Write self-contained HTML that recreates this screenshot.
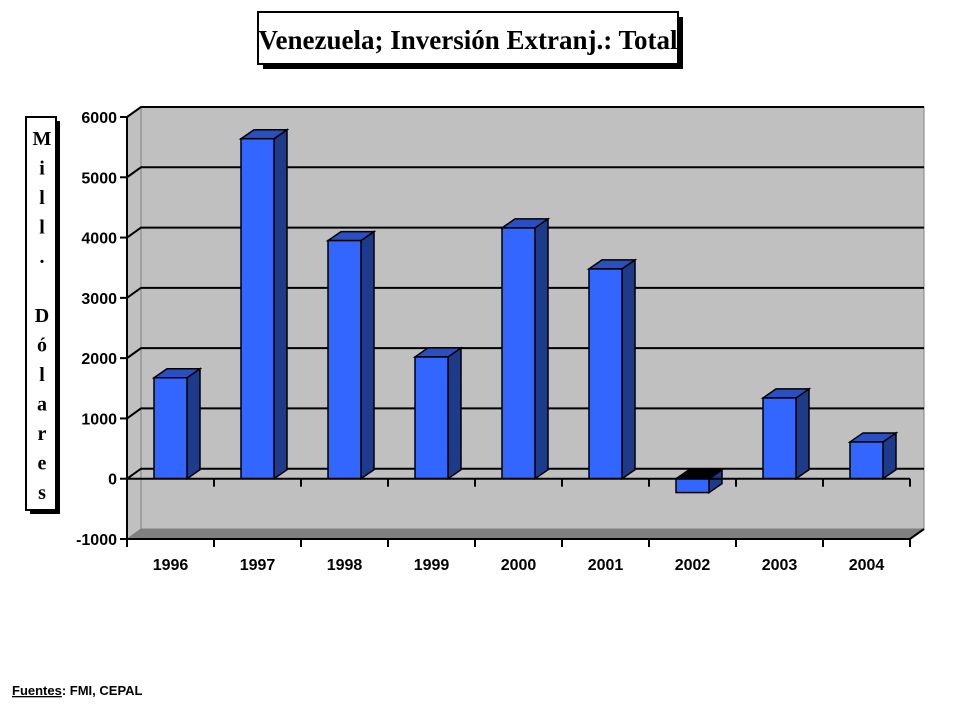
<!DOCTYPE html>
<html><head><meta charset="utf-8"><style>
body{margin:0;background:#fff;width:960px;height:720px;overflow:hidden;font-family:"Liberation Sans",sans-serif}
</style></head><body>
<svg width="960" height="720">
<rect x="263" y="17" width="420" height="52" fill="#000"/>
<rect x="258" y="12" width="420" height="52" fill="#fff" stroke="#000" stroke-width="2"/>
<text x="468" y="49" text-anchor="middle" font-family="Liberation Serif" font-weight="bold" font-size="27">Venezuela; Inversión Extranj.: Total</text>
<rect x="30" y="121" width="30" height="393" fill="#000"/>
<rect x="26" y="117" width="30" height="393" fill="#fff" stroke="#000" stroke-width="2"/>
<g id="ytitle" font-family="Liberation Serif" font-weight="bold" font-size="20" text-anchor="middle"></g>
<g id="plot"></g>
<text x="12" y="695" font-size="13" font-weight="bold"><tspan text-decoration="underline">Fuentes</tspan>:  FMI, CEPAL</text>
</svg>
<script>
const categories=["1996","1997","1998","1999","2000","2001","2002","2003","2004"];
const values=[1675,5640,3950,2020,4160,3480,-230,1340,610];
const yTicks=[-1000,0,1000,2000,3000,4000,5000,6000];
const NS="http://www.w3.org/2000/svg";
const X0=127,X1=910,DX=14,DY=-10,BDX=13,BDY=-9;
const yMin=-1000,yMax=6000,Y0=539,Y1=117;
function y(v){return Y0+(v-yMin)*(Y1-Y0)/(yMax-yMin);}
const cw=(X1-X0)/categories.length;
function x(i){return X0+i*cw;}
const plot=document.getElementById('plot');
function el(t,a,p){const e=document.createElementNS(NS,t);for(const k in a)e.setAttribute(k,a[k]);(p||plot).appendChild(e);return e;}
// walls
let w=el('polygon',{points:`${X0},${Y1} ${X0+DX},${Y1+DY} ${X0+DX},${Y0+DY} ${X0},${Y0}`,fill:'#c0c0c0',stroke:'#808080'});

w=el('rect',{x:X0+DX,y:Y1+DY,width:X1-X0,height:Y0-Y1,fill:'#c0c0c0',stroke:'#808080'});

w=el('polygon',{points:`${X0},${Y0} ${X0+DX},${Y0+DY} ${X1+DX},${Y0+DY} ${X1},${Y0}`,fill:'#808080'});

// gridlines and tick labels
yTicks.forEach(v=>{
  const yy=y(v);
  if(v>yMin){const g=el('polyline',{points:`${X0},${yy} ${X0+DX},${yy+DY} ${X1+DX},${yy+DY}`,fill:'none',stroke:'#000','stroke-width':2});
  }
  const t=el('line',{x1:X0-7,y1:yy,x2:X0,y2:yy,stroke:'#000','stroke-width':2});
  
  const l=el('text',{x:X0-10,y:yy+6,'text-anchor':'end','font-size':16,'font-weight':'bold'});
  l.textContent=v;
  
});
// bars
values.forEach((v,i)=>{
  const bx=x(i)+27,bw=33,yt=y(Math.max(v,0)),yb=y(Math.min(v,0));
  const g=el('g',{});
  
  el('polygon',{points:`${bx+bw},${yt} ${bx+bw+BDX},${yt+BDY} ${bx+bw+BDX},${yb+BDY} ${bx+bw},${yb}`,fill:'#1e3a8a',stroke:'#000','stroke-width':1.5},g);
  el('polygon',{points:`${bx},${yt} ${bx+BDX},${yt+BDY} ${bx+bw+BDX},${yt+BDY} ${bx+bw},${yt}`,fill:v<0?'#000':'#2a4fc0',stroke:'#000','stroke-width':1.5},g);
  el('rect',{x:bx,y:yt,width:bw,height:yb-yt,fill:'#3366ff',stroke:'#000','stroke-width':1.5},g);
});
// axes
let a=el('line',{x1:X0,y1:y(0),x2:X1,y2:y(0),stroke:'#000','stroke-width':2});

a=el('polyline',{points:`${X0},${Y0} ${X1},${Y0} ${X1+DX},${Y0+DY}`,fill:'none',stroke:'#000','stroke-width':2});

a=el('line',{x1:X0,y1:Y1,x2:X0,y2:Y0,stroke:'#000','stroke-width':2});

for(let i=0;i<=categories.length;i++){
  const xx=x(i);
  let t=el('line',{x1:xx,y1:Y0,x2:xx,y2:Y0+8,stroke:'#000','stroke-width':2});
  
  if(i>0){t=el('line',{x1:xx,y1:y(0),x2:xx,y2:y(0)+8,stroke:'#000','stroke-width':2});
  }
}
categories.forEach((c,i)=>{
  const l=el('text',{x:x(i)+cw/2,y:570,'text-anchor':'middle','font-size':16,'font-weight':'bold'});
  l.textContent=c;
  
});
const yt=document.getElementById('ytitle');
"Mill. Dólares".split('').forEach((ch,i)=>{
  const t=el('text',{x:42,y:145+i*29.5},yt);t.textContent=ch;
});
</script>
</body></html>
